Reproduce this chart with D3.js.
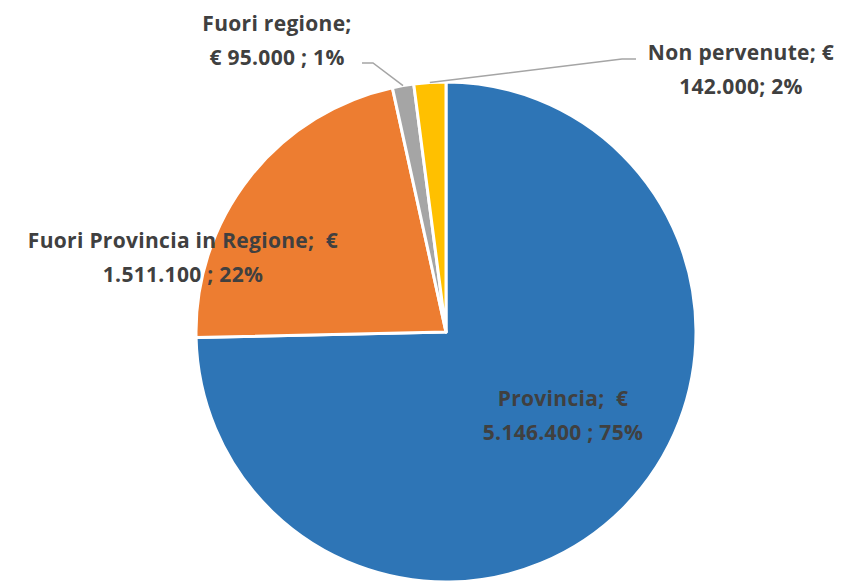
<meta charset="utf-8">
<html>
<head>
<style>
  body { margin: 0; background: #fff; }
  .lbl { font-family: "Open Sans", Lato, sans-serif; font-weight: bold; font-size: 21px; letter-spacing: 0.3px; fill: #404040; white-space: pre; }
</style>
</head>
<body>
<div id="chart"></div>
<script src="https://d3js.org/d3.v7.min.js"></script>
<script>
// data
var categories = ["Provincia", "Fuori Provincia in Regione", "Fuori regione", "Non pervenute"];
var values = [5146400, 1511100, 95000, 142000];
var colors = ["#2E75B6", "#ED7D31", "#A5A5A5", "#FFC000"];
var labelLines = [
  ["Provincia;  €", "5.146.400 ; 75%"],
  ["Fuori Provincia in Regione;  €", "1.511.100 ; 22%"],
  ["Fuori regione;", "€ 95.000 ; 1%"],
  ["Non pervenute; €", "142.000; 2%"]
];
// label centre x and first baseline y
var labelPos = [[563, 406], [183, 248], [277, 31], [741, 60]];

var width = 848, height = 581;
var cx = 446, cy = 332, r = 250;

var svg = d3.select("#chart").append("svg")
  .attr("width", width).attr("height", height);

var g = svg.append("g").attr("transform", "translate(" + cx + "," + cy + ")");

var data = categories.map(function(c, i) { return {name: c, value: values[i], i: i}; });

var pie = d3.pie().sort(null).value(function(d) { return d.value; });
var arc = d3.arc().innerRadius(0).outerRadius(r);
var arcs = pie(data);

g.selectAll("path.slice")
  .data(arcs)
  .enter().append("path")
  .attr("class", "slice")
  .attr("d", arc)
  .attr("fill", function(d) { return colors[d.data.i]; })
  .attr("stroke", "#fff")
  .attr("stroke-width", 3)
  .attr("stroke-linejoin", "round");

// leader lines for the small slices
function edgePoint(d) {
  var a = (d.startAngle + d.endAngle) / 2;
  return [cx + Math.sin(a) * r, cy - Math.cos(a) * r];
}
var leaders = [
  {i: 2, elbow: [373, 63], end: [362, 63]},
  {i: 3, elbow: [622, 59], end: [636, 59]}
];
leaders.forEach(function(l) {
  var p = edgePoint(arcs[l.i]);
  svg.append("polyline")
    .attr("points", [p, l.elbow, l.end].map(function(q) { return q.join(","); }).join(" "))
    .attr("fill", "none")
    .attr("stroke", "#A5A5A5")
    .attr("stroke-width", 1.5);
});

// labels
labelLines.forEach(function(lines, i) {
  var t = svg.append("text").attr("class", "lbl")
    .attr("text-anchor", "middle");
  lines.forEach(function(s, k) {
    t.append("tspan")
      .attr("x", labelPos[i][0])
      .attr("y", labelPos[i][1] + k * 34)
      .text(s);
  });
});
</script>
</body>
</html>
